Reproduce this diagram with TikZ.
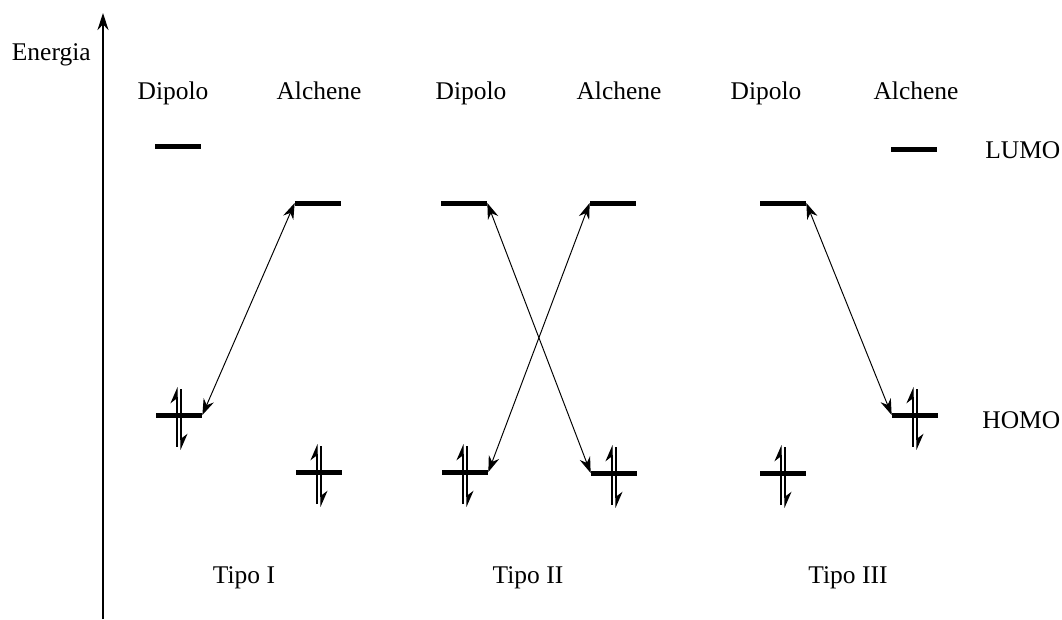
\documentclass[tikz,border=0pt]{standalone}
\usepackage{fontspec}
\setmainfont{Liberation Serif}
\usetikzlibrary{arrows.meta, positioning}

\begin{document}
\begin{tikzpicture}[
    x=0.02cm, y=-0.02cm,
    % Styles
    level/.style={
        rectangle, fill=black, inner sep=0pt,
        minimum width=0.92cm, minimum height=0.1cm
    },
    lbl/.style={font=\fontsize{14.5}{17}\selectfont, inner sep=0pt, anchor=base},
    axis/.style={-{Stealth[length=3.4mm, width=2.2mm]}, line width=0.7pt},
    transfer/.style={{Stealth[length=3.2mm, width=2.2mm]}-{Stealth[length=3.2mm, width=2.2mm]}, line width=0.55pt},
    spin/.style={-{Stealth[harpoon, length=3mm, width=2.6mm]}, line width=0.6pt}
]
\useasboundingbox (0,0) rectangle (1062,619);

% === ENERGY AXIS ===
\coordinate (axbot) at (103,619);
\coordinate (axtop) at (103,13);
\draw [axis] (axbot) -- (axtop);
\node (energia) [lbl, anchor=base east] at (91,60) {Energia};

% === COLUMN HEADERS ===
\node (hd1) [lbl] at (173,99) {Dipolo};
\node (ha1) [lbl] at (319,99) {Alchene};
\node (hd2) [lbl] at (471,99) {Dipolo};
\node (ha2) [lbl] at (619,99) {Alchene};
\node (hd3) [lbl] at (766,99) {Dipolo};
\node (ha3) [lbl] at (916,99) {Alchene};

% === LUMO LEVELS ===
\node (d1lumo) [level] at (178,146) {};
\node (a1lumo) [level] at (318,203) {};
\node (d2lumo) [level] at (464,203) {};
\node (a2lumo) [level] at (613,203) {};
\node (d3lumo) [level] at (783,203) {};
\node (a3lumo) [level] at (914,149) {};

% === HOMO LEVELS ===
\node (d1homo) [level] at (179,415) {};
\node (a1homo) [level] at (319,472) {};
\node (d2homo) [level] at (465,472) {};
\node (a2homo) [level] at (614,473) {};
\node (d3homo) [level] at (783,473) {};
\node (a3homo) [level] at (915,415) {};

% Electron pairs on every HOMO
\foreach \h in {d1homo, a1homo, d2homo, a2homo, d3homo, a3homo} {
    \draw [spin] ([xshift=-0.04cm, yshift=-0.64cm]\h.center) -- ([xshift=-0.04cm, yshift=0.56cm]\h.center);
    \draw [spin] ([xshift=0.04cm, yshift=0.52cm]\h.center) -- ([xshift=0.04cm, yshift=-0.70cm]\h.center);
}

% === SIDE LABELS ===
\node (lumo) [lbl, anchor=base west] at (985,158) {LUMO};
\node (homo) [lbl, anchor=base west] at (982,428) {HOMO};

% === FRONTIER INTERACTIONS ===
% Tipo I
\draw [transfer] (d1homo.east) -- (a1lumo.west);
% Tipo II
\draw [transfer] (d2lumo.east) -- (a2homo.west);
\draw [transfer] (a2lumo.west) -- (d2homo.east);
% Tipo III
\draw [transfer] (d3lumo.east) -- (a3homo.west);

% === TYPE LABELS ===
\node (tipo1) [lbl] at (244,583) {Tipo I};
\node (tipo2) [lbl] at (528,583) {Tipo II};
\node (tipo3) [lbl] at (848,583) {Tipo III};

\end{tikzpicture}
\end{document}
